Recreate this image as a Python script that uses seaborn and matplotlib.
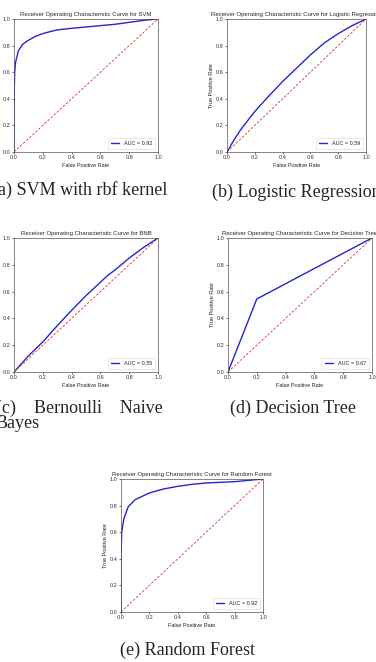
import numpy as np
import pandas as pd
import matplotlib
matplotlib.use('Agg')
import matplotlib.pyplot as plt
import seaborn as sns

# ROC curves
svm_fpr = [0.0, 0.0, 0.005, 0.01, 0.03, 0.06, 0.1, 0.15, 0.2, 0.25, 0.3, 0.4, 0.5, 0.6, 0.7, 0.8, 0.9, 1.0]
svm_tpr = [0.0, 0.4, 0.6, 0.67, 0.76, 0.81, 0.84, 0.87, 0.89, 0.905, 0.918, 0.93, 0.94, 0.95, 0.96, 0.975, 0.99, 1.0]

lr_fpr = [0.0, 0.05, 0.1, 0.2, 0.3, 0.4, 0.5, 0.6, 0.7, 0.8, 0.9, 1.0]
lr_tpr = [0.0, 0.09, 0.17, 0.305, 0.42, 0.53, 0.63, 0.73, 0.82, 0.89, 0.95, 1.0]

bnb_fpr = [0.0, 0.1, 0.2, 0.3, 0.4, 0.5, 0.6, 0.65, 0.7, 0.8, 0.9, 1.0]
bnb_tpr = [0.0, 0.12, 0.225, 0.345, 0.46, 0.57, 0.67, 0.72, 0.76, 0.85, 0.93, 1.0]

dt_fpr = [0.0, 0.2, 1.0]
dt_tpr = [0.0, 0.545, 1.0]

rf_fpr = [0.0, 0.0, 0.005, 0.02, 0.05, 0.1, 0.2, 0.3, 0.4, 0.5, 0.6, 0.7, 0.8, 0.9, 1.0]
rf_tpr = [0.0, 0.4, 0.6, 0.7, 0.79, 0.845, 0.895, 0.925, 0.945, 0.96, 0.97, 0.975, 0.98, 0.99, 1.0]

names = ['SVM', 'Logistic Regression', 'BNB', 'Decision Tree', 'Random Forest']
aucs = [0.92, 0.59, 0.55, 0.67, 0.92]
captions = ['(a) SVM with rbf kernel', '(b) Logistic Regression',
            '(c)    Bernoulli    Naive\nBayes', '(d) Decision Tree', '(e) Random Forest']
curves = [(svm_fpr, svm_tpr), (lr_fpr, lr_tpr), (bnb_fpr, bnb_tpr),
          (dt_fpr, dt_tpr), (rf_fpr, rf_tpr)]

sns.set_style('ticks')
plt.rcParams['font.family'] = ['Liberation Sans', 'DejaVu Sans']

W, H = 376, 662
fig = plt.figure(figsize=(W / 100, H / 100), dpi=100)

# axes boxes in pixels: left, top, right, bottom
boxes = [(14, 19, 158, 152), (227, 19, 366, 152),
         (14, 238, 158, 372), (228, 238, 372, 372),
         (121, 479, 263, 612)]
# caption anchors in pixels
cap_pos = [(80, 190, 'center'), (296, 192, 'center'),
           (-4, 416, 'left'), (293, 408, 'center'), (187, 650, 'center')]

for i in range(5):
    l, t, r, b = boxes[i]
    ax = fig.add_axes([l / W, 1 - b / H, (r - l) / W, (b - t) / H])
    df = pd.DataFrame({'fpr': curves[i][0], 'tpr': curves[i][1]})
    sns.lineplot(data=df, x='fpr', y='tpr', ax=ax, color='#2525d0', lw=1.0,
                 sort=False, estimator=None, label='AUC = %0.2f' % aucs[i])
    diag = pd.DataFrame({'x': [0, 1], 'y': [0, 1]})
    sns.lineplot(data=diag, x='x', y='y', ax=ax, color='#e03030', lw=0.6,
                 linestyle=(0, (3, 2)), sort=False, estimator=None)
    ax.set_xlim(0, 1)
    ax.set_ylim(0, 1)
    ax.set_title('Receiver Operating Characteristic Curve for ' + names[i],
                 fontsize=4.3, pad=2)
    ax.set_xlabel('False Positive Rate', fontsize=4, labelpad=1.5)
    ax.set_ylabel('True Positive Rate', fontsize=4, labelpad=1)
    ax.set_xticks([0, 0.2, 0.4, 0.6, 0.8, 1.0])
    ax.set_yticks([0, 0.2, 0.4, 0.6, 0.8, 1.0])
    ax.tick_params(labelsize=4, length=1.5, width=0.5, pad=1, colors='#333333')
    for s in ax.spines.values():
        s.set_linewidth(0.5)
        s.set_color('#555555')
    leg = ax.legend(loc='lower right', fontsize=4, handlelength=1.5,
                    borderpad=0.6, frameon=True)
    leg.get_frame().set_linewidth(0.4)

    x, y, ha = cap_pos[i]
    fig.text(x / W, 1 - y / H, captions[i], ha=ha, va='center',
             fontsize=13, family=['Liberation Serif', 'DejaVu Serif'],
             linespacing=0.85)

fig.savefig('out.png', dpi=100)
